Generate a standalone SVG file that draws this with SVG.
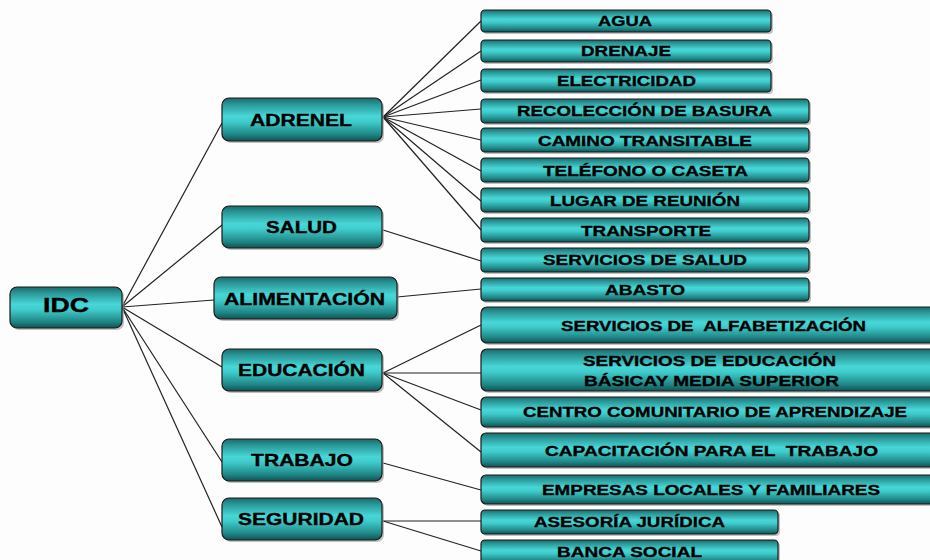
<svg xmlns="http://www.w3.org/2000/svg" width="930" height="560" viewBox="0 0 930 560">
<defs>
<linearGradient id="g" x1="0" y1="0" x2="0" y2="1">
<stop offset="0" stop-color="#1c6a6b"/>
<stop offset="0.15" stop-color="#2a9798"/>
<stop offset="0.42" stop-color="#48d6d6"/>
<stop offset="0.55" stop-color="#40cccc"/>
<stop offset="0.85" stop-color="#1f8585"/>
<stop offset="1" stop-color="#0f5252"/>
</linearGradient>
<style>
.b{fill:url(#g);stroke:#1a1a1a;stroke-width:1.2}
.s{fill:#9a9a9a;opacity:0.6}
.t{font-family:"Liberation Sans",Arial,sans-serif;font-weight:bold;fill:#000;stroke:#000;stroke-width:0.35;white-space:pre}
.m{font-size:16.5px}
.l{font-size:15px}
.c line{stroke:#222;stroke-width:1.2}
</style>
</defs>
<rect width="930" height="560" fill="#fdfdfd"/>
<g class="c">
<line x1="122" y1="307" x2="222" y2="123"/>
<line x1="122" y1="307" x2="222" y2="225"/>
<line x1="122" y1="307" x2="214" y2="300"/>
<line x1="122" y1="307" x2="222" y2="367"/>
<line x1="122" y1="307" x2="222" y2="462"/>
<line x1="122" y1="307" x2="222" y2="527"/>
<line x1="383" y1="117" x2="481" y2="21"/>
<line x1="383" y1="117" x2="481" y2="51"/>
<line x1="383" y1="117" x2="481" y2="80"/>
<line x1="383" y1="117" x2="481" y2="109"/>
<line x1="383" y1="117" x2="481" y2="140"/>
<line x1="383" y1="117" x2="481" y2="171"/>
<line x1="383" y1="117" x2="481" y2="201"/>
<line x1="383" y1="117" x2="481" y2="230"/>
<line x1="383" y1="230" x2="481" y2="261"/>
<line x1="397" y1="297" x2="481" y2="289"/>
<line x1="383" y1="373" x2="481" y2="325"/>
<line x1="383" y1="373" x2="481" y2="373"/>
<line x1="383" y1="373" x2="481" y2="410"/>
<line x1="383" y1="373" x2="481" y2="452"/>
<line x1="383" y1="463" x2="481" y2="490"/>
<line x1="383" y1="521" x2="481" y2="521"/>
<line x1="383" y1="521" x2="481" y2="551"/>
</g>
<g id="idc"><rect class="s" x="12" y="289" width="112" height="41" rx="7"/><rect class="b" x="10" y="287" width="112" height="41" rx="7"/><text class="t" x="43" y="312" font-size="20" textLength="46" lengthAdjust="spacingAndGlyphs">IDC</text></g>
<g id="adrenel"><rect class="s" x="224" y="100" width="160" height="43" rx="7"/><rect class="b" x="222" y="98" width="160" height="43" rx="7"/><text class="t m" x="250" y="126" textLength="102" lengthAdjust="spacingAndGlyphs">ADRENEL</text></g>
<g id="salud"><rect class="s" x="224" y="208" width="160" height="42" rx="7"/><rect class="b" x="222" y="206" width="160" height="42" rx="7"/><text class="t m" x="266" y="233" textLength="71" lengthAdjust="spacingAndGlyphs">SALUD</text></g>
<g id="alimentacion"><rect class="s" x="216" y="279" width="183" height="42" rx="7"/><rect class="b" x="214" y="277" width="183" height="42" rx="7"/><text class="t m" x="224" y="305" textLength="161" lengthAdjust="spacingAndGlyphs">ALIMENTACIÓN</text></g>
<g id="educacion"><rect class="s" x="224" y="351" width="160" height="42" rx="7"/><rect class="b" x="222" y="349" width="160" height="42" rx="7"/><text class="t m" x="238" y="376" textLength="127" lengthAdjust="spacingAndGlyphs">EDUCACIÓN</text></g>
<g id="trabajo"><rect class="s" x="224" y="441" width="160" height="42" rx="7"/><rect class="b" x="222" y="439" width="160" height="42" rx="7"/><text class="t m" x="251" y="466" textLength="102" lengthAdjust="spacingAndGlyphs">TRABAJO</text></g>
<g id="seguridad"><rect class="s" x="224" y="500" width="160" height="42" rx="7"/><rect class="b" x="222" y="498" width="160" height="42" rx="7"/><text class="t m" x="238" y="525" textLength="126" lengthAdjust="spacingAndGlyphs">SEGURIDAD</text></g>

<g id="agua"><rect class="s" x="483" y="12" width="290" height="22" rx="4"/><rect class="b" x="481" y="10" width="290" height="22" rx="4"/><text class="t l" x="598" y="26" textLength="54" lengthAdjust="spacingAndGlyphs">AGUA</text></g>
<g id="drenaje"><rect class="s" x="483" y="42" width="290" height="22" rx="4"/><rect class="b" x="481" y="40" width="290" height="22" rx="4"/><text class="t l" x="581" y="56" textLength="90" lengthAdjust="spacingAndGlyphs">DRENAJE</text></g>
<g id="electricidad"><rect class="s" x="483" y="71" width="290" height="23" rx="4"/><rect class="b" x="481" y="69" width="290" height="23" rx="4"/><text class="t l" x="557" y="86" textLength="139" lengthAdjust="spacingAndGlyphs">ELECTRICIDAD</text></g>
<g id="recoleccion"><rect class="s" x="483" y="101" width="328" height="24" rx="4"/><rect class="b" x="481" y="99" width="328" height="24" rx="4"/><text class="t l" x="517" y="116" textLength="255" lengthAdjust="spacingAndGlyphs">RECOLECCIÓN DE BASURA</text></g>
<g id="camino"><rect class="s" x="483" y="130" width="328" height="24" rx="4"/><rect class="b" x="481" y="128" width="328" height="24" rx="4"/><text class="t l" x="538" y="146" textLength="214" lengthAdjust="spacingAndGlyphs">CAMINO TRANSITABLE</text></g>
<g id="telefono"><rect class="s" x="483" y="160" width="328" height="24" rx="4"/><rect class="b" x="481" y="158" width="328" height="24" rx="4"/><text class="t l" x="543" y="176" textLength="205" lengthAdjust="spacingAndGlyphs">TELÉFONO O CASETA</text></g>
<g id="lugar"><rect class="s" x="483" y="190" width="328" height="24" rx="4"/><rect class="b" x="481" y="188" width="328" height="24" rx="4"/><text class="t l" x="550" y="206" textLength="190" lengthAdjust="spacingAndGlyphs">LUGAR DE REUNIÓN</text></g>
<g id="transporte"><rect class="s" x="483" y="220" width="328" height="24" rx="4"/><rect class="b" x="481" y="218" width="328" height="24" rx="4"/><text class="t l" x="581" y="236" textLength="130" lengthAdjust="spacingAndGlyphs">TRANSPORTE</text></g>
<g id="serv-salud"><rect class="s" x="483" y="250" width="328" height="24" rx="4"/><rect class="b" x="481" y="248" width="328" height="24" rx="4"/><text class="t l" x="543" y="265" textLength="204" lengthAdjust="spacingAndGlyphs">SERVICIOS DE SALUD</text></g>
<g id="abasto"><rect class="s" x="483" y="280" width="328" height="23" rx="4"/><rect class="b" x="481" y="278" width="328" height="23" rx="4"/><text class="t l" x="605" y="295" textLength="80" lengthAdjust="spacingAndGlyphs">ABASTO</text></g>
<g id="alfabetizacion"><rect class="s" x="483" y="309" width="462" height="36" rx="6"/><rect class="b" x="481" y="307" width="462" height="36" rx="6"/><text class="t l" x="561" y="331" textLength="305" lengthAdjust="spacingAndGlyphs">SERVICIOS DE  ALFABETIZACIÓN</text></g>
<g id="educacion-basica"><rect class="s" x="483" y="351" width="462" height="42" rx="6"/><rect class="b" x="481" y="349" width="462" height="42" rx="6"/><text class="t l" x="583" y="366" textLength="253" lengthAdjust="spacingAndGlyphs">SERVICIOS DE EDUCACIÓN</text><text class="t l" x="584" y="386" textLength="255" lengthAdjust="spacingAndGlyphs">BÁSICAY MEDIA SUPERIOR</text></g>
<g id="centro"><rect class="s" x="483" y="399" width="462" height="30" rx="5"/><rect class="b" x="481" y="397" width="462" height="30" rx="5"/><text class="t l" x="523" y="417" textLength="384" lengthAdjust="spacingAndGlyphs">CENTRO COMUNITARIO DE APRENDIZAJE</text></g>
<g id="capacitacion"><rect class="s" x="483" y="435" width="462" height="34" rx="5"/><rect class="b" x="481" y="433" width="462" height="34" rx="5"/><text class="t l" x="545" y="456" textLength="333" lengthAdjust="spacingAndGlyphs">CAPACITACIÓN PARA EL  TRABAJO</text></g>
<g id="empresas"><rect class="s" x="483" y="477" width="462" height="29" rx="5"/><rect class="b" x="481" y="475" width="462" height="29" rx="5"/><text class="t l" x="542" y="495" textLength="338" lengthAdjust="spacingAndGlyphs">EMPRESAS LOCALES Y FAMILIARES</text></g>
<g id="asesoria"><rect class="s" x="483" y="512" width="297" height="24" rx="4"/><rect class="b" x="481" y="510" width="297" height="24" rx="4"/><text class="t l" x="534" y="527" textLength="191" lengthAdjust="spacingAndGlyphs">ASESORÍA JURÍDICA</text></g>
<g id="banca"><rect class="s" x="483" y="542" width="297" height="24" rx="4"/><rect class="b" x="481" y="540" width="297" height="24" rx="4"/><text class="t l" x="557" y="557" textLength="145" lengthAdjust="spacingAndGlyphs">BANCA SOCIAL</text></g>
</svg>
